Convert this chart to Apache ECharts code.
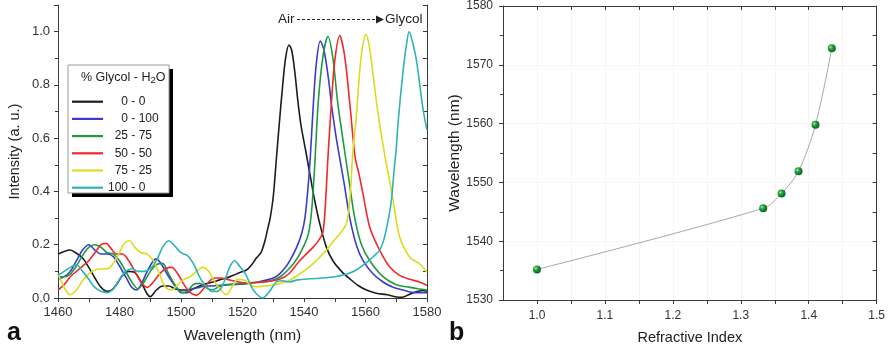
<!DOCTYPE html>
<html>
<head>
<meta charset="utf-8">
<script src="https://cdn.jsdelivr.net/npm/echarts@6/dist/echarts.min.js"></script>
<style>
  html, body { margin: 0; padding: 0; background: #fff; }
  #chart { width: 888px; height: 350px; }
</style>
</head>
<body>
<div id="chart"></div>
<script>
// ---- Panel a: transmission spectra for each glycol / water mixture ----
const mixtureNames = ['0 - 0', '0 - 100', '25 - 75', '50 - 50', '75 - 25', '100 - 0'];
const mixtureColors = ['#1c1c1c', '#3b3bcc', '#1f9a44', '#ef2a2a', '#dcdc1e', '#2db3b8'];

const spec_0_0 = [
  [1460,0.165],[1462,0.175],[1464,0.18],[1466,0.168],[1468,0.15],[1470,0.115],[1472,0.075],[1474,0.04],
  [1476,0.025],[1477.5,0.03],[1479,0.05],[1481,0.085],[1483,0.1],[1485,0.095],[1487,0.06],[1489,0.015],
  [1490,0.005],[1492,0.03],[1494,0.045],[1496,0.045],[1498,0.035],[1500,0.03],[1502,0.03],[1504,0.035],
  [1506,0.045],[1508.3,0.054],[1510.4,0.06],[1512.5,0.068],[1514.8,0.075],[1517,0.085],[1519,0.095],
  [1521.3,0.105],[1523,0.125],[1524.5,0.15],[1526,0.17],[1527.3,0.215],[1528.3,0.265],[1529,0.3],
  [1530,0.38],[1531,0.52],[1532,0.66],[1533,0.79],[1534,0.9],[1535.1,0.95],[1536,0.93],[1537,0.85],
  [1538,0.74],[1539,0.65],[1540.6,0.55],[1542,0.46],[1543.5,0.365],[1545.1,0.28],[1547.3,0.19],
  [1549.4,0.14],[1552.2,0.1],[1554.9,0.072],[1557.6,0.047],[1560.3,0.03],[1563.5,0.018],[1567,0.012],
  [1570,0.004],[1572,0.003],[1574,0.012],[1575.5,0.02],[1578.7,0.028],[1580,0.025]
];
const spec_0_100 = [
  [1460,0.07],[1462,0.08],[1464,0.1],[1466,0.14],[1468,0.18],[1470,0.2],[1472,0.18],[1474,0.165],
  [1476,0.165],[1478,0.155],[1480,0.12],[1482,0.08],[1484,0.04],[1485.5,0.03],[1487,0.05],[1489,0.1],
  [1491,0.14],[1492,0.147],[1494,0.12],[1496,0.08],[1498.5,0.04],[1500.5,0.02],[1502,0.02],[1504,0.035],
  [1506,0.04],[1508,0.045],[1510,0.045],[1513,0.048],[1516,0.05],[1519,0.052],[1522,0.055],[1525,0.06],
  [1528,0.068],[1530,0.075],[1532,0.09],[1534,0.115],[1535.4,0.14],[1537.6,0.19],[1539.2,0.24],
  [1540.3,0.3],[1541.2,0.4],[1542,0.52],[1543,0.72],[1544,0.88],[1545.3,0.965],[1546.5,0.93],
  [1548,0.82],[1549,0.72],[1550.5,0.6],[1552,0.5],[1553.2,0.42],[1554.9,0.3],[1557,0.2],[1559.2,0.14],
  [1562.5,0.09],[1565.7,0.06],[1569,0.04],[1572.2,0.03],[1576,0.02],[1580,0.02]
];
const spec_25_75 = [
  [1460,0.08],[1462,0.08],[1464,0.09],[1466,0.12],[1468,0.16],[1470,0.19],[1472,0.2],[1474,0.19],
  [1476,0.17],[1478,0.165],[1480,0.14],[1482,0.1],[1484,0.06],[1486,0.035],[1488,0.06],[1490,0.1],
  [1492,0.125],[1494,0.13],[1496,0.09],[1498,0.05],[1500,0.02],[1502,0.025],[1504,0.05],[1506,0.055],
  [1508,0.04],[1510,0.03],[1512,0.04],[1514,0.05],[1517,0.052],[1520,0.055],[1524,0.058],[1528,0.062],
  [1532,0.078],[1536.5,0.128],[1539.2,0.178],[1541.4,0.24],[1542.5,0.33],[1543.5,0.5],[1544.6,0.73],
  [1546.2,0.91],[1547.8,0.982],[1549.4,0.9],[1551,0.73],[1553.5,0.53],[1554.9,0.42],[1556.5,0.3],
  [1558.7,0.2],[1561.4,0.14],[1565.7,0.08],[1570,0.05],[1574.4,0.04],[1577,0.035],[1580,0.03]
];
const spec_50_50 = [
  [1460,0.03],[1462,0.05],[1464,0.08],[1466,0.1],[1468,0.12],[1470,0.14],[1472,0.17],[1474,0.2],
  [1475.7,0.205],[1477,0.19],[1479,0.165],[1481,0.165],[1483,0.14],[1485,0.1],[1487,0.06],[1489,0.04],
  [1491,0.06],[1493,0.09],[1495,0.11],[1497,0.115],[1499,0.09],[1501,0.05],[1503,0.02],[1505,0.01],
  [1507,0.03],[1509,0.06],[1511,0.075],[1513,0.075],[1515,0.07],[1518,0.062],[1521,0.056],[1524,0.058],
  [1528,0.062],[1532,0.07],[1535,0.09],[1538.6,0.14],[1542.9,0.19],[1545,0.22],[1546.2,0.25],
  [1547,0.36],[1547.8,0.53],[1548.9,0.73],[1550,0.89],[1551.6,0.985],[1553.2,0.91],[1554.9,0.73],
  [1556.6,0.53],[1557.8,0.47],[1559.2,0.39],[1561.4,0.265],[1564.6,0.18],[1567.9,0.116],[1571.1,0.085],
  [1574.4,0.07],[1577.6,0.06],[1580,0.047]
];
const spec_75_25 = [
  [1460,0.09],[1462,0.04],[1464,0.012],[1466,0.03],[1468,0.065],[1470,0.09],[1472,0.105],[1474,0.11],
  [1476,0.11],[1478,0.13],[1480,0.17],[1481.5,0.205],[1483.3,0.215],[1485,0.19],[1487,0.17],[1489,0.165],
  [1491,0.14],[1493,0.09],[1495,0.04],[1497,0.03],[1499,0.05],[1501,0.07],[1503,0.08],[1505,0.1],
  [1507.2,0.115],[1509,0.1],[1511,0.06],[1513,0.03],[1514.8,0.012],[1516.5,0.04],[1518.5,0.07],
  [1520.5,0.068],[1522.5,0.05],[1524.5,0.042],[1527,0.045],[1529,0.047],[1532,0.054],[1535,0.065],
  [1538.6,0.09],[1542.9,0.128],[1547.3,0.18],[1550,0.22],[1551.6,0.24],[1553.8,0.28],[1554.9,0.37],
  [1555.9,0.55],[1557,0.68],[1558.1,0.85],[1559,0.94],[1560.1,0.99],[1561,0.96],[1561.9,0.89],
  [1564.1,0.69],[1566.5,0.52],[1568,0.43],[1569,0.365],[1571.1,0.23],[1574.4,0.153],[1577.6,0.128],
  [1580,0.097]
];
const spec_100_0 = [
  [1460,0.085],[1462,0.1],[1464,0.115],[1466,0.125],[1468,0.1],[1470,0.07],[1472,0.04],[1474,0.025],
  [1476,0.02],[1478,0.035],[1480,0.07],[1482,0.1],[1484,0.11],[1486,0.1],[1488,0.1],[1490,0.11],
  [1492,0.14],[1494,0.19],[1496,0.215],[1498,0.195],[1500,0.17],[1502,0.16],[1504,0.13],[1506,0.08],
  [1508,0.045],[1510,0.025],[1512,0.025],[1514,0.06],[1516,0.12],[1517.5,0.14],[1519,0.12],[1521,0.09],
  [1523,0.04],[1524.5,0.016],[1526.5,0.0],[1528.5,0.02],[1531,0.06],[1533,0.065],[1535,0.06],
  [1538,0.068],[1542,0.072],[1546,0.075],[1550,0.08],[1554,0.09],[1557,0.105],[1560,0.13],
  [1562.5,0.155],[1564.6,0.18],[1566,0.22],[1567.5,0.3],[1568.4,0.365],[1569.3,0.48],[1570,0.56],
  [1570.6,0.66],[1572.2,0.85],[1573.3,0.95],[1574.2,1.0],[1575.3,0.96],[1576.6,0.89],[1578.7,0.71],
  [1580,0.63]
];
const spectra = [spec_0_0, spec_0_100, spec_25_75, spec_50_50, spec_75_25, spec_100_0];

// ---- Panel b: resonance wavelength versus refractive index ----
const refractiveIndex = [1.0, 1.333, 1.36, 1.385, 1.41, 1.434];
const resonanceWavelength = [1535.2, 1545.6, 1548.1, 1551.9, 1559.8, 1572.8];

const FONT = '"Liberation Sans", Arial, sans-serif';
const AXIS_COLOR = '#3a3a3a';
const LABEL_COLOR = '#333';
const LEGEND_FONT = 12;
const DIGIT_W = LEGEND_FONT * 0.556;

const chart = echarts.init(document.getElementById('chart'), null, { renderer: 'canvas' });

function frameAxis(extra) {
  return Object.assign({
    type: 'value',
    axisLine: { show: true, lineStyle: { color: AXIS_COLOR, width: 1 } },
    axisLabel: { show: false },
    splitLine: { show: false },
    axisTick: { show: true, inside: true, length: 4, lineStyle: { color: AXIS_COLOR } }
  }, extra);
}

const sphere = new echarts.graphic.RadialGradient(0.35, 0.35, 0.7, [
  { offset: 0, color: '#a8eea8' },
  { offset: 0.35, color: '#22a545' },
  { offset: 1, color: '#0a5a1e' }
]);

const plain = v => String(Math.round(v));

// legend label columns: glycol share right-aligned, water share after the dash
const legendTok = { fontSize: LEGEND_FONT, lineHeight: 12, color: '#222', fontFamily: FONT };
const legendRich = {
  p0: Object.assign({}, legendTok),
  p1: Object.assign({ padding: [0, 0, 0, DIGIT_W] }, legendTok),
  p2: Object.assign({ padding: [0, 0, 0, DIGIT_W * 2] }, legendTok),
  q: Object.assign({}, legendTok)
};

const option = {
  animation: false,
  backgroundColor: '#fff',
  textStyle: { fontFamily: FONT },
  grid: [
    { left: 58, top: 5, width: 369, height: 293 },
    { left: 503, top: 4, width: 374, height: 297 }
  ],
  xAxis: [
    {
      type: 'value', gridIndex: 0, position: 'bottom', min: 1460, max: 1580, interval: 20,
      axisLine: { lineStyle: { color: AXIS_COLOR, width: 1 } },
      axisTick: { show: true, length: 4, lineStyle: { color: AXIS_COLOR } },
      minorTick: { show: true, splitNumber: 2, length: 3, lineStyle: { color: AXIS_COLOR } },
      axisLabel: { color: LABEL_COLOR, fontSize: 13, margin: 8, fontFamily: FONT, formatter: plain },
      splitLine: { show: false },
      name: 'Wavelength (nm)', nameLocation: 'middle', nameGap: 30,
      nameTextStyle: { fontSize: 15.5, color: '#222', fontFamily: FONT }
    },
    frameAxis({ gridIndex: 0, position: 'top', min: 1460, max: 1580, interval: 10 }),
    {
      type: 'value', gridIndex: 1, position: 'bottom', min: 0.95, max: 1.5, interval: 0.05,
      axisLine: { lineStyle: { color: AXIS_COLOR, width: 1 } },
      axisTick: { show: true, length: 4, lineStyle: { color: AXIS_COLOR } },
      axisLabel: {
        color: LABEL_COLOR, fontSize: 12, margin: 10, fontFamily: FONT,
        showMinLabel: false,
        formatter: v => {
          const r = Math.round(v * 100);
          return r % 10 === 0 ? (r / 100).toFixed(1) : '';
        }
      },
      splitLine: { show: true, lineStyle: { color: '#f5f5f5', width: 1 } },
      name: 'Refractive Index', nameLocation: 'middle', nameGap: 30,
      nameTextStyle: { fontSize: 14.5, color: '#222', fontFamily: FONT }
    },
    frameAxis({ gridIndex: 1, position: 'top', min: 0.95, max: 1.5, interval: 0.05 })
  ],
  yAxis: [
    {
      type: 'value', gridIndex: 0, position: 'left', min: 0, max: 1.1, interval: 0.2,
      axisLine: { show: true, lineStyle: { color: AXIS_COLOR, width: 1 } },
      axisTick: { show: true, length: 4, lineStyle: { color: AXIS_COLOR } },
      minorTick: { show: true, splitNumber: 2, length: 3, lineStyle: { color: AXIS_COLOR } },
      axisLabel: { color: LABEL_COLOR, fontSize: 13, margin: 8, fontFamily: FONT,
        showMaxLabel: false, formatter: v => v.toFixed(1) },
      splitLine: { show: false },
      name: 'Intensity (a. u.)', nameLocation: 'middle', nameGap: 36,
      nameTextStyle: { fontSize: 14.5, color: '#222', fontFamily: FONT }
    },
    frameAxis({ gridIndex: 0, position: 'right', min: 0, max: 1.1, interval: 0.1 }),
    {
      type: 'value', gridIndex: 1, position: 'left', min: 1530, max: 1580, interval: 10,
      axisLine: { show: true, lineStyle: { color: AXIS_COLOR, width: 1 } },
      axisTick: { show: true, length: 4, lineStyle: { color: AXIS_COLOR } },
      minorTick: { show: true, splitNumber: 2, length: 3, lineStyle: { color: AXIS_COLOR } },
      axisLabel: { color: LABEL_COLOR, fontSize: 12, margin: 10, fontFamily: FONT, formatter: plain },
      splitLine: { show: true, lineStyle: { color: '#f5f5f5', width: 1 } },
      name: 'Wavelength (nm)', nameLocation: 'middle', nameGap: 33,
      nameTextStyle: { fontSize: 15.5, color: '#222', fontFamily: FONT }
    },
    frameAxis({ gridIndex: 1, position: 'right', min: 1530, max: 1580, interval: 5 })
  ],
  legend: {
    orient: 'vertical',
    left: 72, top: 95.7,
    padding: 0,
    icon: 'rect',
    itemWidth: 31, itemHeight: 2.2, itemGap: 5.2,
    data: mixtureNames,
    textStyle: Object.assign({ rich: legendRich }, legendTok),
    formatter: name => {
      const parts = name.split(' - ');
      return '{p' + (3 - parts[0].length) + '|' + parts[0] + '}{q| - ' + parts[1] + '}';
    }
  },
  graphic: [
    // legend frame with its black drop shadow
    { type: 'rect', z: -1, shape: { x: 72, y: 69, width: 101, height: 128 },
      style: { fill: '#000' }, silent: true },
    { type: 'rect', z: 0, shape: { x: 68, y: 65, width: 101, height: 128 },
      style: { fill: '#fff', stroke: '#9a9a9a', lineWidth: 1 }, silent: true },
    { type: 'text', z: 5, left: 81, top: 71,
      style: {
        text: '% Glycol - H{s|2}O', fill: '#222', fontSize: 12.5, fontFamily: FONT,
        rich: { s: { fontSize: 9.5, padding: [6, 0, 0, 0], fill: '#222', fontFamily: FONT } }
      } },
    // Air -> Glycol annotation
    { type: 'text', z: 5, left: 278, top: 12,
      style: { text: 'Air', fill: '#222', fontSize: 13.5, fontFamily: FONT } },
    { type: 'line', z: 5, shape: { x1: 297, y1: 19.5, x2: 378, y2: 19.5 },
      style: { stroke: '#222', lineWidth: 1, lineDash: [3, 2] } },
    { type: 'polygon', z: 5, shape: { points: [[376, 15.5], [384, 19.5], [376, 23.5]] },
      style: { fill: '#222' } },
    { type: 'text', z: 5, left: 385, top: 12,
      style: { text: 'Glycol', fill: '#222', fontSize: 13.5, fontFamily: FONT } },
    // panel letters
    { type: 'text', z: 5, left: 7, top: 321,
      style: { text: 'a', fill: '#111', fontSize: 25, fontWeight: 'bold', fontFamily: FONT } },
    { type: 'text', z: 5, left: 449, top: 321,
      style: { text: 'b', fill: '#111', fontSize: 25, fontWeight: 'bold', fontFamily: FONT } }
  ],
  series: [
    ...spectra.map((d, i) => ({
      name: mixtureNames[i],
      type: 'line',
      xAxisIndex: 0, yAxisIndex: 0,
      data: d,
      smooth: 0.3,
      showSymbol: false,
      symbol: 'none',
      clip: true,
      color: mixtureColors[i],
      lineStyle: { color: mixtureColors[i], width: 1.6 },
      z: 2
    })),
    {
      name: 'resonance',
      type: 'line',
      xAxisIndex: 2, yAxisIndex: 2,
      data: refractiveIndex.map((n, i) => [n, resonanceWavelength[i]]),
      smooth: 0.3,
      symbol: 'circle',
      symbolSize: 8,
      lineStyle: { color: '#a8a8a8', width: 1 },
      itemStyle: { color: sphere, borderWidth: 0 },
      z: 3
    }
  ]
};

chart.setOption(option);
</script>
</body>
</html>
